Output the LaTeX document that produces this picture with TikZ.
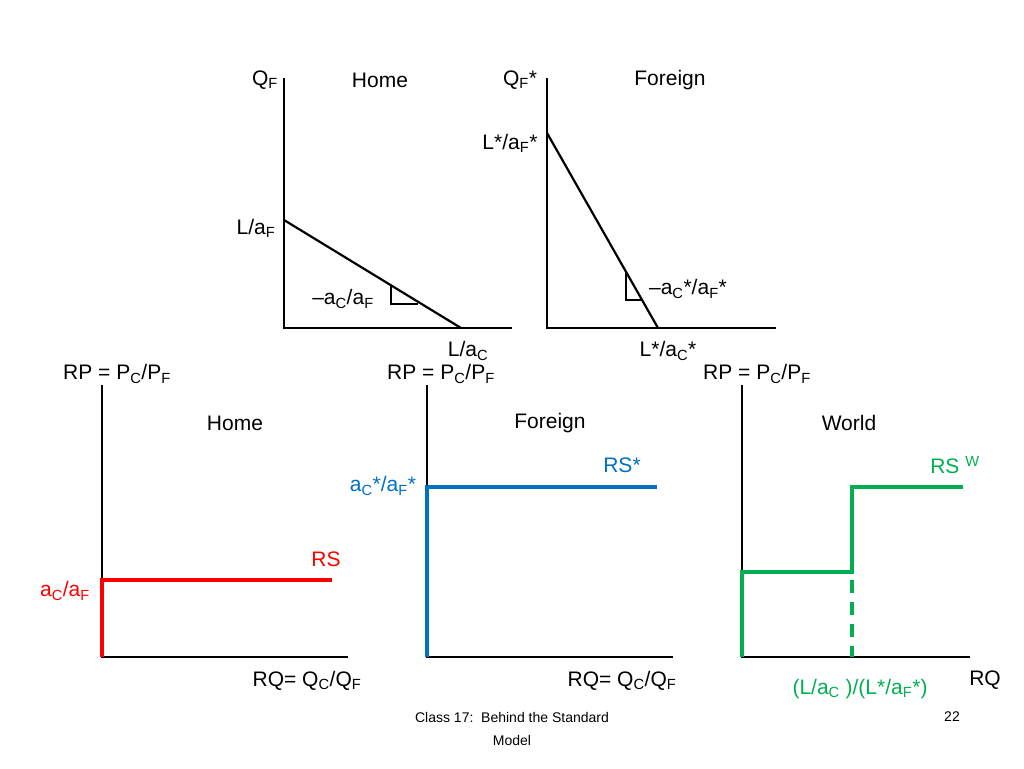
\documentclass[tikz,border=0pt]{standalone}
\usepackage{fontspec}
\setmainfont{Liberation Sans}
\definecolor{myred}{HTML}{FF0000}
\definecolor{myblue}{HTML}{0070C0}
\definecolor{mygreen}{HTML}{00B050}
\begin{document}
\begin{tikzpicture}[x=1pt,y=-1pt,
  lbl/.style={inner sep=0pt,font=\fontsize{21}{24}\selectfont},
  ax/.style={line width=2.2pt,black},
  crv/.style={line width=2.2pt},
  thick3/.style={line width=4pt}]
\useasboundingbox (0,0) rectangle (1024,768);
% top-left panel
\coordinate (h0) at (284,328);
\draw[ax] (284,78) -- (h0) -- (512,328);
\coordinate (hA) at (284,220); \coordinate (hB) at (461,328);
\draw[crv] (hA) -- (hB);
\draw[line width=1.8pt] (391,285) -- (391,304) -- (418,304);
\node[lbl] (qf) at (265,80) {Q\textsubscript{F}};
\node[lbl] (home1) at (380,80) {Home};
\node[lbl] (laf) at (256,228) {L/a\textsubscript{F}};
\node[lbl] (slope1) at (343,299) {–a\textsubscript{C}/a\textsubscript{F}};
\node[lbl] (lac) at (468,351) {L/a\textsubscript{C}};
% top-right panel
\draw[ax] (547,78) -- (547,328) -- (776,328);
\coordinate (fA) at (547,133); \coordinate (fB) at (658,328);
\draw[crv] (fA) -- (fB);
\draw[line width=1.8pt] (626,272) -- (626,300) -- (642,300);
\node[lbl] (qfs) at (520,80) {Q\textsubscript{F}*};
\node[lbl] (for1) at (670,80) {Foreign};
\node[lbl] (lafs) at (510,143) {L*/a\textsubscript{F}*};
\node[lbl] (slope2) at (688,289) {–a\textsubscript{C}*/a\textsubscript{F}*};
\node[lbl] (lacs) at (668,351) {L*/a\textsubscript{C}*};
% bottom axes
\node[lbl] (rp1) at (117,374) {RP = P\textsubscript{C}/P\textsubscript{F}};
\node[lbl] (rp2) at (441,374) {RP = P\textsubscript{C}/P\textsubscript{F}};
\node[lbl] (rp3) at (757,374) {RP = P\textsubscript{C}/P\textsubscript{F}};
\draw[ax] (102,385) -- (102,657) -- (348,657);
\draw[ax] (427,385) -- (427,657) -- (673,657);
\draw[ax] (742,385) -- (742,657) -- (970,657);
\node[lbl] (home2) at (235,423) {Home};
\node[lbl] (for2) at (550,423) {Foreign};
\node[lbl] (world) at (849,423) {World};
% home RS
\draw[thick3,myred] (102,657) -- (102,580) -- (332,580);
\node[lbl,myred] (rs) at (326,559) {RS};
\node[lbl,myred] (acaf) at (65,591) {a\textsubscript{C}/a\textsubscript{F}};
% foreign RS
\draw[thick3,myblue] (427,657) -- (427,487) -- (657,487);
\node[lbl,myblue] (rss) at (622,465) {RS*};
\node[lbl,myblue] (acafs) at (383,486) {a\textsubscript{C}*/a\textsubscript{F}*};
% world
\draw[thick3,mygreen] (742,657) -- (742,572) -- (852,572) -- (852,487) -- (963,487);
\draw[thick3,mygreen,dash pattern=on 13pt off 9pt] (852,580) -- (852,657);
\node[lbl,mygreen] (rsw) at (955,465) {RS \textsuperscript{W}};
\node[lbl,mygreen] (ratio) at (860,689) {(L/a\textsubscript{C} )/(L*/a\textsubscript{F}*)};
\node[lbl] (rq) at (985,680) {RQ};
\node[lbl] (rq1) at (307,681) {RQ= Q\textsubscript{C}/Q\textsubscript{F}};
\node[lbl] (rq2) at (622,681) {RQ= Q\textsubscript{C}/Q\textsubscript{F}};
% footer
\node[align=center,font=\fontsize{14}{23}\selectfont] (foot) at (512,729) {Class 17:\ \ Behind the Standard\\Model};
\node[font=\fontsize{14}{16}\selectfont] (pg) at (952,717) {22};
\end{tikzpicture}
\end{document}
